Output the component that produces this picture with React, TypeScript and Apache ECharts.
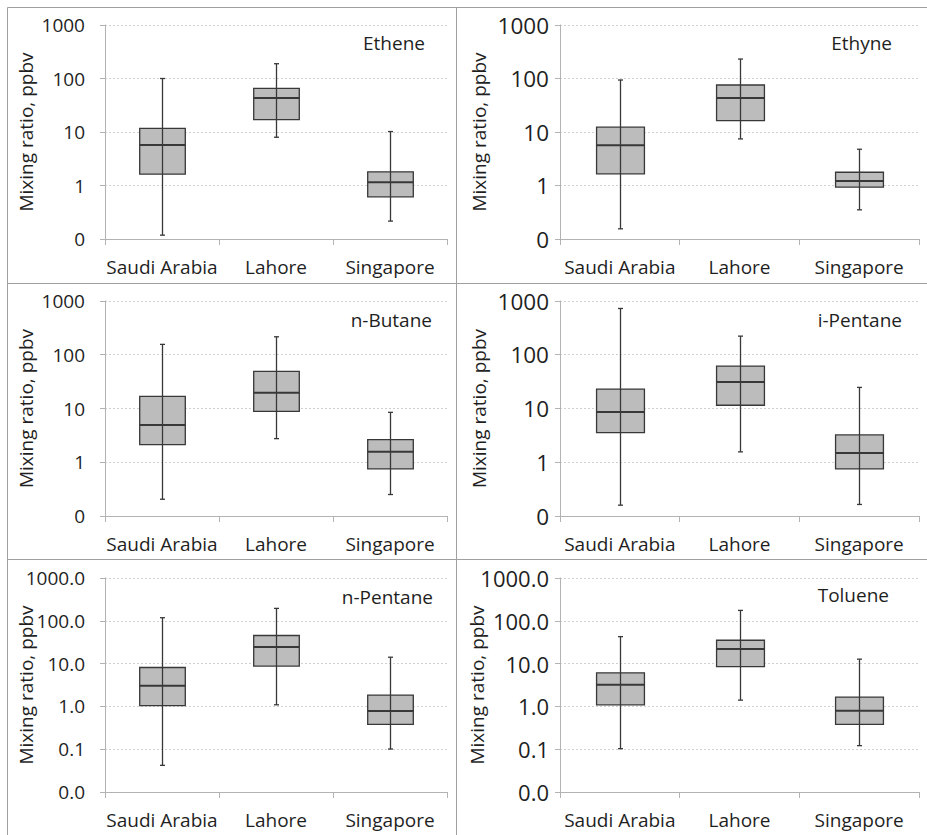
import React, { useEffect, useRef } from "react";
import * as echarts from "echarts";

const categories = ["Saudi Arabia", "Lahore", "Singapore"];
const species = ["Ethene", "Ethyne", "n-Butane", "i-Pentane", "n-Pentane", "Toluene"];

// each row: [min, q1, median, q3, max] for Saudi Arabia, Lahore, Singapore
const ethene = [
  [0.118, 1.63, 5.74, 11.7, 100],
  [7.98, 17.1, 43.3, 65.5, 189],
  [0.216, 0.614, 1.15, 1.8, 10.2],
];
const ethyne = [
  [0.155, 1.65, 5.66, 12.3, 93.7],
  [7.43, 16.3, 43.3, 75.6, 231],
  [0.351, 0.93, 1.22, 1.77, 4.76],
];
const nButane = [
  [0.205, 2.13, 4.94, 16.8, 156],
  [2.75, 8.86, 19.7, 49, 216],
  [0.251, 0.752, 1.56, 2.64, 8.49],
];
const iPentane = [
  [0.159, 3.56, 8.61, 23, 726],
  [1.56, 11.5, 31.1, 61.5, 222],
  [0.164, 0.752, 1.49, 3.22, 24.7],
];
const nPentane = [
  [0.042, 1.04, 3.03, 8.1, 118],
  [1.09, 8.74, 24.3, 45.4, 195],
  [0.101, 0.381, 0.78, 1.84, 14.1],
];
const toluene = [
  [0.103, 1.09, 3.2, 6.08, 42.7],
  [1.4, 8.54, 22, 35.1, 175],
  [0.121, 0.381, 0.79, 1.65, 12.7],
];
const panelData = [ethene, ethyne, nButane, iPentane, nPentane, toluene];

// y-axis ranges (log) and tick label decimals per panel
const yMins = [0.1, 0.1, 0.1, 0.1, 0.01, 0.01];
const yMax = 1000;
const yDecimals = [0, 0, 0, 0, 1, 1];
const yAxisName = "Mixing ratio, ppbv";

// layout (positions only)
const grids = [
  { left: 105, top: 25, width: 342, height: 214 },
  { left: 560, top: 25, width: 359, height: 214 },
  { left: 105, top: 301, width: 342, height: 215 },
  { left: 560, top: 301, width: 359, height: 215 },
  { left: 105, top: 578, width: 342, height: 214 },
  { left: 560, top: 578, width: 359, height: 214 },
];
const titlePos = [
  { right: 502, top: 33 },
  { right: 35, top: 33 },
  { right: 495, top: 310 },
  { right: 25, top: 310 },
  { right: 494, top: 587 },
  { right: 38, top: 585 },
];
const nameGaps = [70, 72, 70, 72, 70, 74];
const tickFontSizes = [19, 22.5, 19, 22.5, 19, 22];

const FONT = "'Open Sans', sans-serif";
const TEXT = "#1f1f1f";
const AXIS = "#b3b3b3";
const FONT_SIZE = 19;

export default function App() {
  const ref = useRef<HTMLDivElement>(null);

  useEffect(() => {
    if (!ref.current) return;
    const chart = echarts.init(ref.current, undefined, { renderer: "svg" });

    const renderItem = (params: any, api: any) => {
      const xi = api.value(0);
      const lo = api.coord([xi, api.value(1)]);
      const q1 = api.coord([xi, api.value(2)]);
      const md = api.coord([xi, api.value(3)]);
      const q3 = api.coord([xi, api.value(4)]);
      const hi = api.coord([xi, api.value(5)]);
      const cx = Math.round(lo[0]) + 0.5;
      const bw = (params.coordSys.width / categories.length) * 0.4;
      const cap = 2.5;
      const stroke = "#383838";
      return {
        type: "group",
        children: [
          {
            type: "rect",
            shape: { x: cx - bw / 2, y: q3[1], width: bw, height: q1[1] - q3[1] },
            style: { fill: "#bcbcbc", stroke, lineWidth: 1.3 },
          },
          {
            type: "line",
            shape: { x1: cx, y1: hi[1], x2: cx, y2: lo[1] },
            style: { stroke, lineWidth: 1.3 },
          },
          {
            type: "line",
            shape: { x1: cx - cap, y1: hi[1], x2: cx + cap, y2: hi[1] },
            style: { stroke, lineWidth: 1.3 },
          },
          {
            type: "line",
            shape: { x1: cx - cap, y1: lo[1], x2: cx + cap, y2: lo[1] },
            style: { stroke, lineWidth: 1.3 },
          },
          {
            type: "line",
            shape: { x1: cx - bw / 2, y1: md[1], x2: cx + bw / 2, y2: md[1] },
            style: { stroke, lineWidth: 2 },
          },
        ],
      };
    };

    const option: any = {
      animation: false,
      backgroundColor: "#ffffff",
      title: species.map((s, i) => ({
        text: s,
        right: titlePos[i].right,
        top: titlePos[i].top,
        padding: 0,
        textStyle: { fontFamily: FONT, fontSize: FONT_SIZE, fontWeight: "normal", color: TEXT },
      })),
      grid: grids.map((g) => ({ ...g, containLabel: false, outerBoundsMode: "none" })),
      xAxis: grids.map((_, i) => ({
        type: "category",
        gridIndex: i,
        data: categories,
        boundaryGap: true,
        axisLine: { lineStyle: { color: AXIS, width: 1 } },
        axisTick: { show: true, alignWithLabel: false, length: 6, lineStyle: { color: AXIS } },
        axisLabel: { margin: 18, fontFamily: FONT, fontSize: FONT_SIZE, color: TEXT, interval: 0 },
        splitLine: { show: false },
      })),
      yAxis: grids.map((_, i) => ({
        type: "log",
        logBase: 10,
        gridIndex: i,
        min: yMins[i],
        max: yMax,
        name: yAxisName,
        nameLocation: "middle",
        nameGap: nameGaps[i],
        nameMoveOverlap: false,
        nameTextStyle: { fontFamily: FONT, fontSize: FONT_SIZE, color: TEXT },
        axisLine: { show: true, lineStyle: { color: AXIS, width: 1 } },
        axisTick: { show: true, length: 5, lineStyle: { color: AXIS } },
        axisLabel: {
          margin: i % 2 === 0 ? 20 : 11,
          fontFamily: FONT,
          fontSize: tickFontSizes[i],
          color: TEXT,
          formatter: (v: number) => v.toFixed(yDecimals[i]),
        },
        splitLine: { show: true, lineStyle: { color: "#d0d0d0", type: [2, 2], width: 1 } },
        minorTick: { show: false },
      })),
      series: panelData.map((rows, i) => ({
        type: "custom",
        name: species[i],
        xAxisIndex: i,
        yAxisIndex: i,
        renderItem,
        encode: { x: 0, y: [1, 2, 3, 4, 5] },
        data: rows.map((r, ci) => [ci, ...r]),
        z: 3,
      })),
      graphic: [
        { type: "line", shape: { x1: 7.5, y1: 7.5, x2: 927, y2: 7.5 }, style: { stroke: "#a0a0a0", lineWidth: 1 } },
        { type: "line", shape: { x1: 7.5, y1: 7.5, x2: 7.5, y2: 835 }, style: { stroke: "#a0a0a0", lineWidth: 1 } },
        { type: "line", shape: { x1: 456.5, y1: 7.5, x2: 456.5, y2: 835 }, style: { stroke: "#a0a0a0", lineWidth: 1 } },
        { type: "line", shape: { x1: 7.5, y1: 283.5, x2: 927, y2: 283.5 }, style: { stroke: "#a0a0a0", lineWidth: 1 } },
        { type: "line", shape: { x1: 7.5, y1: 559.5, x2: 927, y2: 559.5 }, style: { stroke: "#a0a0a0", lineWidth: 1 } },
      ],
    };

    chart.setOption(option);
    return () => chart.dispose();
  }, []);

  return (
    <div
      ref={ref}
      style={{ position: "absolute", left: 0, top: 0, width: 927, height: 835 }}
    />
  );
}
